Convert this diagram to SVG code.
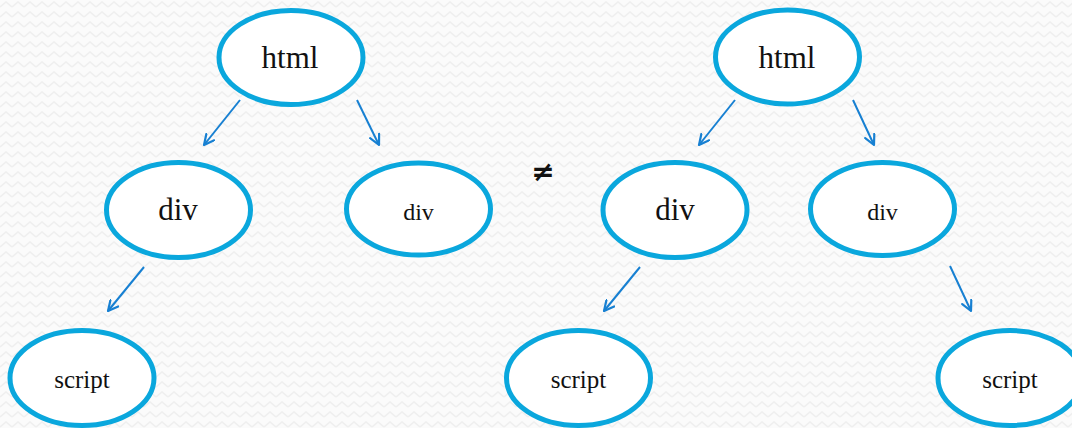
<svg xmlns="http://www.w3.org/2000/svg" width="1072" height="428" viewBox="0 0 1072 428">
  <defs>
    <!-- faint zigzag paper texture -->
    <pattern id="zigzag" width="12" height="10" patternUnits="userSpaceOnUse">
      <rect width="12" height="10" fill="#fbfbfb"/>
      <polyline points="0,7 6,2 12,7" fill="none" stroke="#efefef" stroke-width="1.6"/>
    </pattern>
    <marker id="arrow" viewBox="0 0 12 12" refX="11" refY="6" markerWidth="12" markerHeight="12" markerUnits="userSpaceOnUse" orient="auto">
      <path d="M1,1 L11,6 L1,11" fill="none" stroke="#1780d2" stroke-width="2.2" stroke-linecap="round" stroke-linejoin="round"/>
    </marker>
    <style>
      .node ellipse { fill: #ffffff; stroke: #0aa7dd; stroke-width: 5; }
      .node text { font-family: "Liberation Serif", "DejaVu Serif", serif; fill: #111111; text-anchor: middle; }
      .big { font-size: 31px; }
      .small { font-size: 24px; }
      .scr { font-size: 25px; }
      .edge { stroke: #1780d2; stroke-width: 2; fill: none; marker-end: url(#arrow); }
      .neq { font-family: "DejaVu Sans", sans-serif; font-size: 28px; font-weight: bold; fill: #111111; text-anchor: middle; }
    </style>
  </defs>

  <rect width="1072" height="428" fill="url(#zigzag)"/>

  <!-- left tree -->
  <g id="html-left" class="node">
    <ellipse cx="291" cy="57.5" rx="72" ry="47"/>
    <text class="big" x="290" y="68">html</text>
  </g>
  <g id="div-left-a" class="node">
    <ellipse cx="178.5" cy="210" rx="72" ry="47.5"/>
    <text class="big" x="178" y="220">div</text>
  </g>
  <g id="div-left-b" class="node">
    <ellipse cx="418.5" cy="209" rx="72" ry="46"/>
    <text class="small" x="418.5" y="220">div</text>
  </g>
  <g id="script-left" class="node">
    <ellipse cx="82" cy="378" rx="72" ry="47.5"/>
    <text class="scr" x="82" y="388">script</text>
  </g>

  <!-- inequality sign between the two trees -->
  <text id="not-equal" class="neq" x="543" y="181">≠</text>

  <!-- right tree -->
  <g id="html-right" class="node">
    <ellipse cx="787.5" cy="57" rx="72" ry="47"/>
    <text class="big" x="787" y="68">html</text>
  </g>
  <g id="div-right-a" class="node">
    <ellipse cx="675" cy="210" rx="72" ry="47.5"/>
    <text class="big" x="675" y="220">div</text>
  </g>
  <g id="div-right-b" class="node">
    <ellipse cx="882.5" cy="209" rx="72" ry="46.5"/>
    <text class="small" x="882.5" y="220">div</text>
  </g>
  <g id="script-mid" class="node">
    <ellipse cx="578.5" cy="378" rx="72" ry="47.5"/>
    <text class="scr" x="578.5" y="388">script</text>
  </g>
  <g id="script-right" class="node">
    <ellipse cx="1010" cy="378" rx="72" ry="47.5"/>
    <text class="scr" x="1010" y="388">script</text>
  </g>

  <g id="connectors">
    <line class="edge" x1="240" y1="100" x2="204" y2="145"/>
    <line class="edge" x1="357" y1="100" x2="379" y2="145"/>
    <line class="edge" x1="144" y1="267" x2="108" y2="311"/>
    <line class="edge" x1="735" y1="100" x2="699" y2="145"/>
    <line class="edge" x1="853" y1="100" x2="874" y2="145"/>
    <line class="edge" x1="640" y1="267" x2="604" y2="311"/>
    <line class="edge" x1="950" y1="266" x2="971" y2="311"/>
  </g>
</svg>
